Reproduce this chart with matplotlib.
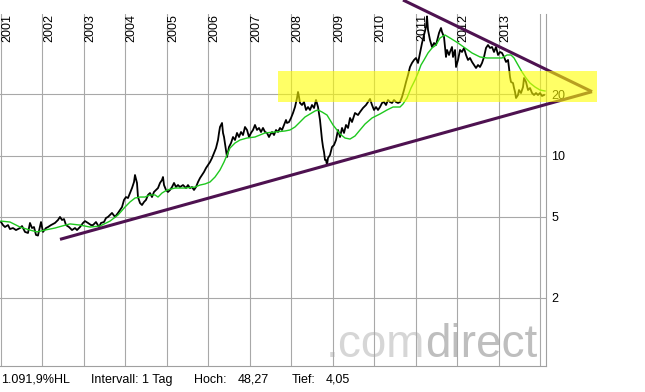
import matplotlib.pyplot as plt
from matplotlib.ticker import NullLocator

plt.rcParams['font.family'] = ['Liberation Sans', 'DejaVu Sans']

# daily close (decimal years, EUR)
dates = [
    2001.000, 2001.048, 2001.096, 2001.169, 2001.217, 2001.289, 2001.362, 2001.458, 2001.507, 2001.579,
    2001.651, 2001.699, 2001.748, 2001.796, 2001.844, 2001.892, 2001.965, 2002.013, 2002.085, 2002.134,
    2002.206, 2002.302, 2002.375, 2002.423, 2002.471, 2002.520, 2002.568, 2002.640, 2002.713, 2002.785,
    2002.833, 2002.905, 2002.978, 2003.026, 2003.098, 2003.171, 2003.219, 2003.291, 2003.364, 2003.412,
    2003.484, 2003.533, 2003.581, 2003.629, 2003.677, 2003.750, 2003.822, 2003.870, 2003.919, 2003.967,
    2004.015, 2004.063, 2004.111, 2004.160, 2004.208, 2004.232, 2004.280, 2004.304, 2004.353, 2004.401,
    2004.449, 2004.497, 2004.546, 2004.594, 2004.642, 2004.690, 2004.739, 2004.787, 2004.835, 2004.883,
    2004.907, 2004.932, 2004.980, 2005.028, 2005.076, 2005.125, 2005.173, 2005.221, 2005.269, 2005.317,
    2005.390, 2005.462, 2005.510, 2005.559, 2005.607, 2005.655, 2005.703, 2005.752, 2005.800, 2005.848,
    2005.896, 2005.945, 2005.993, 2006.041, 2006.089, 2006.138, 2006.186, 2006.234, 2006.258, 2006.282,
    2006.331, 2006.355, 2006.379, 2006.427, 2006.451, 2006.499, 2006.548, 2006.596, 2006.644, 2006.692,
    2006.741, 2006.789, 2006.837, 2006.885, 2006.934, 2006.982, 2007.030, 2007.078, 2007.126, 2007.175,
    2007.223, 2007.271, 2007.319, 2007.368, 2007.416, 2007.464, 2007.488, 2007.537, 2007.585, 2007.633,
    2007.681, 2007.729, 2007.778, 2007.826, 2007.874, 2007.898, 2007.947, 2007.995, 2008.043, 2008.091,
    2008.140, 2008.164, 2008.188, 2008.212, 2008.260, 2008.308, 2008.357, 2008.405, 2008.453, 2008.501,
    2008.550, 2008.598, 2008.646, 2008.694, 2008.718, 2008.743, 2008.767, 2008.791, 2008.815, 2008.839,
    2008.863, 2008.887, 2008.935, 2008.984, 2009.032, 2009.080, 2009.128, 2009.177, 2009.225, 2009.273,
    2009.321, 2009.370, 2009.418, 2009.466, 2009.538, 2009.611, 2009.659, 2009.731, 2009.804, 2009.852,
    2009.900, 2009.949, 2009.997, 2010.045, 2010.093, 2010.141, 2010.190, 2010.238, 2010.286, 2010.334,
    2010.383, 2010.431, 2010.479, 2010.527, 2010.576, 2010.624, 2010.672, 2010.720, 2010.769, 2010.817,
    2010.865, 2010.913, 2010.962, 2011.010, 2011.058, 2011.106, 2011.155, 2011.203, 2011.251, 2011.275,
    2011.299, 2011.347, 2011.396, 2011.444, 2011.492, 2011.540, 2011.565, 2011.613, 2011.637, 2011.685,
    2011.709, 2011.733, 2011.758, 2011.806, 2011.830, 2011.878, 2011.902, 2011.951, 2011.975, 2012.023,
    2012.071, 2012.119, 2012.168, 2012.216, 2012.264, 2012.312, 2012.361, 2012.409, 2012.457, 2012.505,
    2012.553, 2012.602, 2012.650, 2012.698, 2012.746, 2012.795, 2012.843, 2012.891, 2012.939, 2012.988,
    2013.036, 2013.084, 2013.132, 2013.181, 2013.229, 2013.253, 2013.277, 2013.301, 2013.349, 2013.374,
    2013.398, 2013.422, 2013.470, 2013.494, 2013.542, 2013.591, 2013.615, 2013.663, 2013.711, 2013.759,
    2013.808, 2013.856, 2013.904, 2013.952, 2014.001, 2014.049, 2014.097,
]
prices = [
    4.72, 4.56, 4.46, 4.56, 4.36, 4.41, 4.31, 4.41, 4.51, 4.22,
    4.17, 4.67, 4.41, 4.46, 4.08, 4.05, 4.72, 4.22, 4.41, 4.46,
    4.56, 4.67, 4.83, 5.00, 4.83, 4.88, 4.56, 4.46, 4.31, 4.41,
    4.31, 4.46, 4.67, 4.77, 4.67, 4.56, 4.56, 4.72, 4.46, 4.67,
    4.72, 4.94, 5.00, 5.11, 5.23, 5.00, 5.23, 5.41, 5.59, 6.06,
    6.26, 6.19, 6.55, 6.93, 7.42, 8.03, 7.34, 6.26, 5.85, 5.72,
    5.92, 6.06, 6.41, 6.55, 6.26, 6.63, 6.78, 6.93, 7.34, 7.59,
    7.85, 7.17, 6.78, 6.63, 6.78, 7.01, 7.34, 7.01, 7.17, 7.01,
    7.17, 6.93, 7.17, 6.93, 7.01, 6.78, 7.01, 7.42, 7.76, 8.03,
    8.31, 8.69, 8.99, 9.30, 9.73, 10.30, 10.89, 11.93, 12.92, 13.82,
    14.46, 12.92, 12.34, 10.65, 9.84, 11.02, 11.53, 12.34, 11.93, 12.92,
    12.34, 13.06, 12.62, 13.82, 13.36, 12.34, 12.92, 13.36, 14.14, 13.36,
    13.67, 13.06, 13.67, 13.06, 12.92, 12.34, 12.62, 13.06, 12.62, 13.36,
    13.06, 13.67, 13.36, 14.14, 14.96, 14.46, 14.62, 15.30, 16.19, 17.32,
    19.18, 20.53, 19.40, 18.13, 17.72, 18.33, 16.75, 17.32, 16.75, 17.72,
    17.13, 18.75, 17.32, 14.96, 13.36, 11.93, 11.02, 10.41, 9.52, 9.52,
    8.99, 9.73, 10.07, 11.02, 11.27, 11.93, 13.36, 12.34, 13.67, 12.92,
    14.14, 13.67, 15.30, 14.62, 16.19, 15.82, 16.37, 17.13, 17.72, 18.33,
    18.97, 17.72, 16.75, 17.32, 16.75, 17.32, 18.13, 18.33, 17.72, 18.75,
    18.33, 18.13, 18.75, 18.33, 18.13, 18.33, 19.40, 20.99, 22.98, 24.87,
    27.23, 28.50, 29.48, 30.15, 28.50, 31.90, 35.72, 39.10, 42.80, 48.27,
    41.38, 36.95, 34.14, 35.72, 34.92, 38.23, 40.00, 42.32, 40.45, 38.23,
    34.14, 30.50, 33.00, 31.19, 32.27, 34.14, 30.50, 33.00, 27.23, 29.48,
    33.00, 32.27, 33.76, 31.19, 29.48, 30.15, 28.82, 27.85, 26.92, 27.85,
    27.23, 28.50, 30.50, 33.76, 34.92, 33.76, 34.14, 32.27, 34.14, 31.19,
    32.27, 31.90, 30.50, 28.82, 29.48, 26.92, 24.32, 22.98, 22.72, 21.47,
    20.53, 19.18, 19.84, 20.99, 20.29, 21.72, 24.04, 22.98, 20.99, 21.47,
    20.29, 19.84, 20.29, 19.84, 20.29, 19.62, 19.84,
]

# 200-day moving average (green)
ma_dates = [
    2001.000, 2001.217, 2001.458, 2001.699, 2001.868, 2002.061, 2002.302, 2002.471, 2002.664, 2002.905,
    2003.147, 2003.388, 2003.629, 2003.822, 2003.991, 2004.111, 2004.232, 2004.353, 2004.473, 2004.594,
    2004.714, 2004.787, 2004.883, 2005.004, 2005.197, 2005.438, 2005.679, 2005.800, 2005.921, 2006.041,
    2006.162, 2006.282, 2006.379, 2006.523, 2006.644, 2006.765, 2006.934, 2007.126, 2007.368, 2007.609,
    2007.850, 2007.971, 2008.091, 2008.212, 2008.332, 2008.453, 2008.574, 2008.646, 2008.743, 2008.863,
    2009.008, 2009.177, 2009.297, 2009.418, 2009.538, 2009.659, 2009.780, 2009.949, 2010.141, 2010.310,
    2010.455, 2010.624, 2010.696, 2010.793, 2010.889, 2010.986, 2011.058, 2011.130, 2011.203, 2011.299,
    2011.396, 2011.492, 2011.589, 2011.709, 2011.830, 2012.023, 2012.192, 2012.361, 2012.553, 2012.722,
    2012.915, 2013.084, 2013.205, 2013.301, 2013.374, 2013.470, 2013.567, 2013.663, 2013.759, 2013.880,
    2014.001, 2014.121,
]
ma_values = [
    4.77, 4.72, 4.46, 4.31, 4.22, 4.31, 4.41, 4.51, 4.62, 4.56,
    4.46, 4.51, 4.77, 5.11, 5.59, 5.92, 6.19, 6.26, 6.26, 6.41,
    6.41, 6.26, 6.55, 6.78, 6.93, 6.93, 7.01, 7.17, 7.26, 7.42,
    7.85, 8.50, 9.30, 10.89, 11.53, 11.93, 12.20, 12.34, 12.92, 13.06,
    13.21, 13.36, 13.82, 14.62, 15.47, 16.01, 16.56, 16.75, 16.37, 15.82,
    14.14, 12.77, 12.20, 12.06, 12.48, 13.36, 14.29, 15.30, 16.01, 16.75,
    17.32, 17.32, 17.92, 19.18, 21.47, 23.51, 25.44, 27.85, 29.48, 31.90,
    33.76, 34.92, 37.80, 39.10, 37.80, 35.72, 33.76, 31.90, 30.50, 30.15,
    30.15, 30.15, 31.19, 31.19, 30.15, 27.85, 25.73, 24.04, 22.72, 21.72,
    20.99, 20.76,
]

# trend lines of the triangle (start, apex)
upper_x = [2010.696, 2015.255]
upper_y = [58.07, 20.60]
lower_x = [2002.423, 2015.255]
lower_y = [3.88, 20.60]

# highlighted zone
zone_x = [2007.681, 2015.376]
zone_y = [18.27, 26.11]

years = list(range(2001, 2015))
ytick_vals = [2, 5, 10, 20]
ytick_labels = ['2', '5', '10', '20']

info_texts = ['1.091,9%HL', 'Intervall: 1 Tag', 'Hoch:', '48,27', 'Tief:', '4,05']
info_px = [1, 91, 194, 238, 292, 326]

fig = plt.figure(figsize=(6.45, 3.92), dpi=100)
ax = fig.add_axes([0, 26 / 392, 546 / 645, 352 / 392])

ax.set_yscale('log')
ax.set_xlim(2000.976, 2014.145)
ax.set_ylim(0.927, 49.57)

ax.plot(dates, prices, color='black', lw=1.3, zorder=3)
ax.plot(ma_dates, ma_values, color='#1ec81e', lw=1.0, zorder=3.5)
ax.plot(upper_x, upper_y, color='#4e1250', lw=2.2, clip_on=False, zorder=4, solid_capstyle='butt')
ax.plot(lower_x, lower_y, color='#4e1250', lw=2.2, clip_on=False, zorder=4, solid_capstyle='butt')
ax.fill([zone_x[0], zone_x[1], zone_x[1], zone_x[0]],
        [zone_y[0], zone_y[0], zone_y[1], zone_y[1]],
        color='#ffff00', alpha=0.6, lw=0, clip_on=False, zorder=5)

# axes look
ax.set_xticks(years)
ax.set_yticks(ytick_vals)
ax.set_yticklabels(ytick_labels)
ax.yaxis.set_minor_locator(NullLocator())
ax.yaxis.tick_right()
ax.tick_params(axis='x', length=0, labelbottom=False)
ax.tick_params(axis='y', length=0, pad=4, labelsize=9)
ax.grid(True, color='#a8a8a8', lw=0.8)
for s in ['top', 'left']:
    ax.spines[s].set_visible(False)
for s in ['right', 'bottom']:
    ax.spines[s].set_color('#a0a0a0')
    ax.spines[s].set_linewidth(0.8)

for y in years[:-1]:
    ax.annotate(str(y), xy=(y, 1), xycoords=('data', 'axes fraction'),
                xytext=(0.3, 0), textcoords='offset points',
                rotation=90, ha='left', va='top', fontsize=9)

# watermark
t1 = ax.text(0.597, 0.026, '.com', transform=ax.transAxes, fontsize=33,
             color='#d6d6d6', va='baseline', ha='left', zorder=1)
ax.annotate('direct', xy=(1, 0), xycoords=t1, fontsize=33, color='#bebebe',
            va='bottom', ha='left', zorder=1)

for txt, px in zip(info_texts, info_px):
    fig.text(px / 645, 9 / 392, txt, fontsize=9, va='baseline', ha='left')

fig.savefig('out.png', dpi=100)
